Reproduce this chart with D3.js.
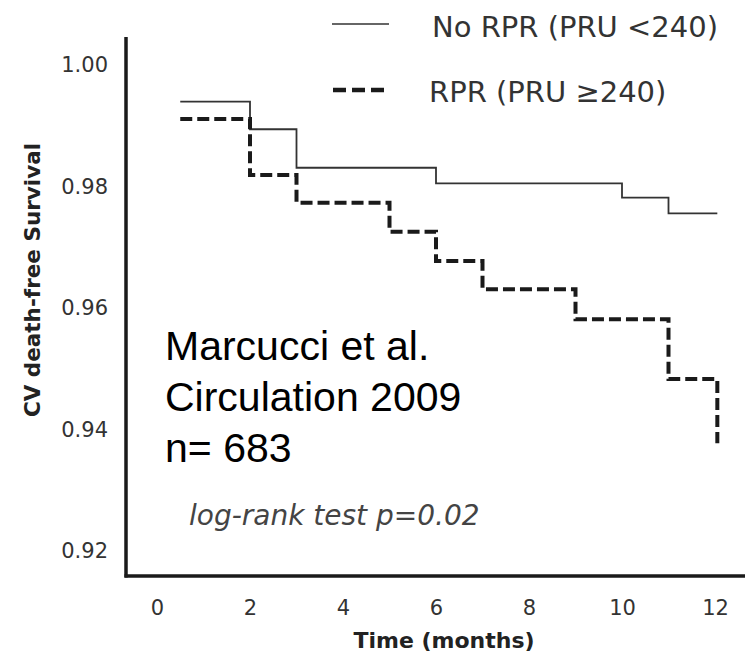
<!DOCTYPE html>
<html>
<head>
<meta charset="utf-8">
<script src="https://cdn.jsdelivr.net/npm/d3@7"></script>
<style>
  html, body { margin: 0; padding: 0; background: #fff; }
  svg { display: block; }
</style>
</head>
<body>
<script>
// ---- Data ----
const xTickValues = [0, 2, 4, 6, 8, 10, 12];
const yTickValues = [0.92, 0.94, 0.96, 0.98, 1.00];

const noRprTimes = [0.5, 2, 3, 6, 10, 11, 12.05];
const noRprSurv  = [0.99396, 0.98942, 0.98309, 0.98053, 0.97816, 0.97559, 0.97559];

const rprTimes = [0.5, 2, 3, 5, 6, 7, 9, 11, 12.05];
const rprSurv  = [0.99111, 0.98189, 0.97733, 0.97256, 0.96774, 0.96308, 0.95814, 0.94831, 0.93773];

const seriesNames = ["No RPR (PRU <240)", "RPR (PRU \u2265240)"];
const annotationLines = ["Marcucci et al.", "Circulation 2009", "n= 683"];
const testText = "log-rank test p=0.02";
const xTitle = "Time (months)";
const yTitle = "CV death-free Survival";

// ---- Layout ----
const W = 745, H = 656;
const axisX = 126, axisY = 576, axisTop = 37, axisRight = 745;

const svg = d3.select("body").append("svg").attr("width", W).attr("height", H);

const x = d3.scaleLinear().domain([0, 12]).range([157, 715]);
const y = d3.scaleLinear().domain([0.92, 1.00]).range([551, 65]);

// Axes lines (frame)
svg.append("line").attr("x1", axisX).attr("x2", axisX).attr("y1", axisTop).attr("y2", axisY + 1.5)
  .attr("stroke", "#1a1a1a").attr("stroke-width", 3.5);
svg.append("line").attr("x1", axisX - 1.5).attr("x2", axisRight).attr("y1", axisY).attr("y2", axisY)
  .attr("stroke", "#1a1a1a").attr("stroke-width", 3.5);

// Y tick labels
const yAxis = svg.append("g").attr("transform", `translate(${axisX},0)`)
  .call(d3.axisLeft(y).tickValues(yTickValues).tickSize(0).tickPadding(18).tickFormat(d3.format(".2f")));
yAxis.select(".domain").remove();
yAxis.selectAll("text").attr("font-family", "DejaVu Sans").attr("font-size", 21).attr("fill", "#333");

// X tick labels
const xAxis = svg.append("g").attr("transform", `translate(0,${axisY})`)
  .call(d3.axisBottom(x).tickValues(xTickValues).tickSize(0).tickPadding(24).tickFormat(d3.format("d")));
xAxis.select(".domain").remove();
xAxis.selectAll("text").attr("font-family", "DejaVu Sans").attr("font-size", 21).attr("fill", "#333");

// Axis titles
svg.append("text").attr("x", 444).attr("y", 648).attr("text-anchor", "middle")
  .attr("font-family", "DejaVu Sans").attr("font-weight", "bold").attr("font-size", 22).attr("fill", "#222")
  .text(xTitle);
svg.append("text").attr("transform", "translate(40,280) rotate(-90)").attr("text-anchor", "middle")
  .attr("font-family", "DejaVu Sans").attr("font-weight", "bold").attr("font-size", 21.5).attr("fill", "#222")
  .text(yTitle);

// Curves
const line = d3.line().x(d => x(d[0])).y(d => y(d[1])).curve(d3.curveStepAfter);
const noRprData = noRprTimes.map((t, i) => [t, noRprSurv[i]]);
const rprData = rprTimes.map((t, i) => [t, rprSurv[i]]);

svg.append("path").datum(noRprData).attr("d", line).attr("fill", "none")
  .attr("stroke", "#333").attr("stroke-width", 1.8);
svg.append("path").datum(rprData).attr("d", line).attr("fill", "none")
  .attr("stroke", "#1a1a1a").attr("stroke-width", 4).attr("stroke-dasharray", "12,5");

// Legend
const legend = svg.append("g");
legend.append("line").attr("x1", 332).attr("x2", 389).attr("y1", 24).attr("y2", 24)
  .attr("stroke", "#333").attr("stroke-width", 1.6);
legend.append("line").attr("x1", 333).attr("x2", 390).attr("y1", 90).attr("y2", 90)
  .attr("stroke", "#1a1a1a").attr("stroke-width", 4.5).attr("stroke-dasharray", "13,6");
legend.append("text").attr("x", 432).attr("y", 37).text(seriesNames[0])
  .attr("font-family", "DejaVu Sans").attr("font-size", 29).attr("fill", "#333");
legend.append("text").attr("x", 429).attr("y", 102).text(seriesNames[1])
  .attr("font-family", "DejaVu Sans").attr("font-size", 29).attr("fill", "#333");

// Annotation
const ann = svg.append("text").attr("font-family", "Liberation Sans, Arial, sans-serif")
  .attr("font-size", 41).attr("fill", "#000");
annotationLines.forEach((s, i) => {
  ann.append("tspan").attr("x", 165).attr("y", 360 + i * 51).text(s);
});

svg.append("text").attr("x", 189).attr("y", 525).text(testText)
  .attr("font-family", "DejaVu Sans").attr("font-style", "italic").attr("font-size", 28).attr("fill", "#444");
</script>
</body>
</html>
